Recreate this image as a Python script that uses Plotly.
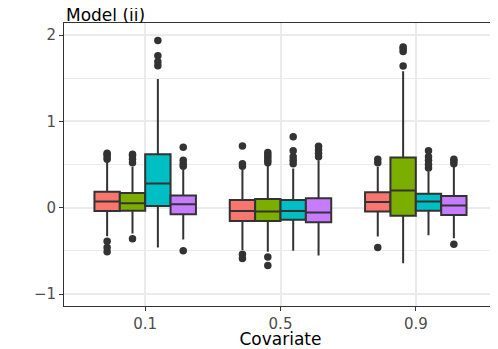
import plotly.graph_objects as go

# Covariate levels on the x axis
covariates = ['0.1', '0.5', '0.9']

# One row per method (salmon, green, teal, purple), one value per covariate
q1 = [[-0.04, -0.155, -0.045],
      [-0.035, -0.155, -0.095],
      [0.02, -0.14, -0.035],
      [-0.077, -0.17, -0.085]]
median = [[0.07, -0.04, 0.065],
          [0.05, -0.045, 0.20],
          [0.28, -0.04, 0.07],
          [0.04, -0.055, 0.025]]
q3 = [[0.185, 0.09, 0.18],
      [0.17, 0.10, 0.58],
      [0.62, 0.09, 0.16],
      [0.14, 0.11, 0.135]]
lower_whisker = [[-0.33, -0.49, -0.335],
                 [-0.30, -0.51, -0.645],
                 [-0.46, -0.50, -0.32],
                 [-0.37, -0.555, -0.355]]
upper_whisker = [[0.53, 0.44, 0.475],
                 [0.475, 0.49, 1.58],
                 [1.49, 0.455, 0.42],
                 [0.44, 0.55, 0.475]]
outliers = [
    [[0.56, 0.59, 0.62, 0.63, -0.39, -0.46, -0.51],
     [0.48, 0.51, 0.715, -0.54, -0.59],
     [0.52, 0.56, -0.46]],
    [[0.52, 0.56, 0.60, 0.62, -0.36],
     [0.52, 0.55, 0.58, 0.61, 0.64, -0.57, -0.67],
     [1.64, 1.81, 1.84, 1.86]],
    [[1.645, 1.69, 1.76, 1.935],
     [0.51, 0.55, 0.59, 0.66, 0.82],
     [0.46, 0.50, 0.55, 0.59, 0.66]],
    [[0.48, 0.51, 0.55, 0.70, -0.50],
     [0.59, 0.63, 0.67, 0.71],
     [0.51, 0.54, 0.56, -0.425]],
]
methods = ['M1', 'M2', 'M3', 'M4']
colors = ['#F8766D', '#7CAE00', '#00BFC4', '#C77CFF']

fig = go.Figure()
for k, name in enumerate(methods):
    fig.add_trace(go.Box(
        name=name, x=covariates, y=outliers[k],
        q1=q1[k], median=median[k], q3=q3[k],
        lowerfence=lower_whisker[k], upperfence=upper_whisker[k],
        boxpoints='outliers', jitter=0, pointpos=0,
        fillcolor=colors[k], whiskerwidth=0,
        line=dict(color='#333333', width=2),
        marker=dict(color='#333333', size=7.5),
        showlegend=False, hoverinfo='skip'))

# page body adds an 8px margin, so the figure is a bit smaller than the window
font = 'DejaVu Sans, Liberation Sans, Arial'
fig.update_layout(
    width=490, height=341,
    margin=dict(l=56, r=1, t=15, b=43),
    paper_bgcolor='white', plot_bgcolor='white',
    boxmode='group', boxgap=0.25, boxgroupgap=0,
    font=dict(family=font, color='#4D4D4D'),
    annotations=[dict(text='Model (ii)', xref='paper', yref='paper', x=0, y=1,
                      xanchor='left', yanchor='bottom', yshift=-4, showarrow=False,
                      font=dict(size=17, color='black', family=font))],
)
fig.update_xaxes(
    type='category', range=[-0.6, 2.6], automargin=False,
    showgrid=True, gridcolor='#EBEBEB', gridwidth=1.5,
    showline=True, mirror=True, linecolor='#333333', linewidth=1,
    ticks='outside', ticklen=4, tickcolor='#333333',
    tickfont=dict(size=15, color='#4D4D4D'),
    title=dict(text='Covariate', font=dict(size=17, color='black'), standoff=6),
)
fig.update_yaxes(
    range=[-1.139, 2.139], tickvals=[-1, 0, 1, 2], automargin=False,
    showgrid=True, gridcolor='#EBEBEB', gridwidth=1.5, zeroline=False,
    minor=dict(tickvals=[-0.5, 0.5, 1.5], showgrid=True, gridcolor='#EBEBEB', gridwidth=0.8),
    showline=True, mirror=True, linecolor='#333333', linewidth=1,
    ticks='outside', ticklen=4, tickcolor='#333333',
    tickfont=dict(size=15, color='#4D4D4D'),
)

fig.write_html("out.html")
